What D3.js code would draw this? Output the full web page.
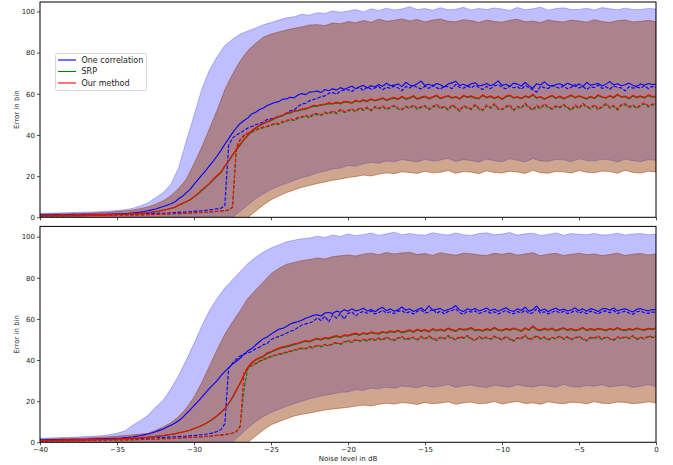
<!DOCTYPE html>
<html><head><meta charset="utf-8">
<script src="https://cdn.jsdelivr.net/npm/d3@7"></script>
<style>body{margin:0;background:#fff}svg{display:block}text{font-family:"DejaVu Sans",sans-serif;fill:#222}</style>
</head><body><svg id="c" width="673" height="465"></svg>
<script>
// sample grids (noise level in dB)
const lineStep = 0.25, bandStep = 0.5;
const noiseLine = d3.range(161).map(i => -40 + i * lineStep);
const noiseBand = d3.range(81).map(i => -40 + i * bandStep);

const methods = ["One correlation", "SRP", "Our method"];
const xTicks = [-40, -35, -30, -25, -20, -15, -10, -5, 0];
const yTicks = [0, 20, 40, 60, 80, 100];

// ---------------- TOP PANEL ----------------
const topOneMean = [1.2,1.2,1.3,1.2,1.3,1.3,1.2,1.3,1.3,1.4,1.3,1.4,1.4,1.4,1.5,1.4,1.5,1.5,1.6,1.6,1.7,1.7,1.8,1.9,2.1,2.3,2.5,2.8,3.2,3.6,4.0,4.6,5.2,5.9,6.6,7.4,9.0,10.2,12.0,13.6,16.0,18.2,20.5,22.6,25.0,27.3,29.8,32.5,35.5,38.2,41.0,43.5,45.6,47.0,48.3,50.2,51.0,52.4,53.1,54.3,55.0,55.8,56.2,57.4,57.5,58.3,58.0,59.4,60.1,59.6,60.8,61.0,61.3,60.6,62.1,61.5,62.4,61.8,63.0,62.2,62.9,63.7,62.5,63.4,64.1,62.8,63.9,63.3,64.5,63.6,65.1,63.9,64.2,64.8,63.5,65.6,64.3,63.9,64.9,66.2,64.0,64.7,63.6,65.0,64.4,63.2,64.8,65.3,66.1,64.0,64.6,63.7,64.9,65.4,63.8,64.2,65.0,63.9,64.8,66.3,64.1,64.6,63.5,65.2,64.7,63.8,65.5,64.0,62.6,64.9,64.3,65.8,64.2,63.7,64.5,64.9,63.9,65.1,64.4,63.6,64.8,63.5,65.6,64.1,64.6,65.0,63.8,64.7,65.9,64.3,64.9,63.9,64.4,65.2,64.0,63.6,64.8,64.2,65.0,64.5,64.6];
const topOneMedian = [0.8,0.8,0.9,0.8,0.9,0.9,0.9,1.0,1.0,1.0,1.0,1.1,1.1,1.1,1.2,1.1,1.2,1.2,1.3,1.3,1.3,1.4,1.4,1.5,1.5,1.6,1.6,1.7,1.8,1.8,1.9,2.0,2.0,2.1,2.2,2.3,2.4,2.5,2.6,2.7,2.9,3.0,3.2,3.4,3.6,3.8,4.1,4.4,5.6,35.0,38.5,40.0,41.0,42.2,43.4,44.1,45.0,45.6,46.3,47.5,47.8,48.2,49.0,49.3,50.5,51.8,52.2,53.8,55.0,55.4,56.6,57.2,57.8,58.6,59.0,60.2,60.6,59.8,61.3,61.9,62.0,61.1,62.6,63.0,61.6,63.4,62.2,62.8,63.5,62.0,63.2,62.7,63.8,62.9,61.5,63.6,62.8,64.0,63.1,62.4,63.7,62.6,64.3,63.0,62.2,63.9,63.4,62.5,64.6,63.1,62.7,63.8,62.9,64.2,63.0,62.1,63.6,62.5,63.9,64.4,63.2,62.4,63.8,62.9,63.5,62.2,64.0,63.1,61.9,60.8,63.7,63.0,62.6,64.1,63.3,62.7,63.9,62.4,63.2,64.5,62.8,63.6,62.1,63.4,63.0,64.2,62.6,63.5,62.2,63.8,63.1,62.9,61.4,63.5,62.7,63.3,62.8,63.9,62.5,63.6,63.1];
const topSrpMean = [1.0,1.0,1.0,1.0,1.0,1.0,1.1,1.1,1.1,1.1,1.1,1.1,1.2,1.2,1.2,1.2,1.2,1.3,1.3,1.3,1.4,1.4,1.5,1.6,1.7,1.8,1.9,2.0,2.2,2.4,2.7,3.0,3.4,3.8,4.3,4.8,5.8,6.6,7.5,8.4,9.8,11.2,13.0,14.5,16.2,18.1,20.0,21.6,24.6,27.1,30.1,32.6,35.1,37.6,39.7,41.8,43.2,44.5,45.4,46.2,46.9,48.0,48.7,49.3,50.3,50.6,51.4,51.7,52.3,52.5,53.2,53.9,54.0,54.4,54.7,55.2,55.0,55.6,55.1,56.0,55.8,55.4,56.5,56.0,56.8,56.2,57.2,56.5,57.0,57.7,56.7,57.4,57.9,57.2,58.4,57.3,57.9,58.7,57.3,58.0,58.5,57.5,58.2,59.0,57.6,58.3,58.8,57.8,58.4,57.3,58.9,58.2,58.6,57.9,57.5,59.2,58.0,58.7,57.7,58.5,57.2,58.5,59.0,57.9,58.3,57.6,58.7,58.1,59.4,57.8,58.4,57.3,58.2,58.9,57.7,58.6,57.5,58.3,59.1,57.9,58.8,58.1,57.4,58.5,57.7,59.2,58.2,57.8,58.9,58.0,59.4,58.3,58.6,57.6,58.9,58.1,58.7,57.9,59.1,58.4,58.6];
const topSrpMedian = [0.7,0.7,0.7,0.7,0.7,0.8,0.8,0.8,0.8,0.8,0.8,0.8,0.9,0.9,0.9,0.9,0.9,0.9,1.0,1.0,1.0,1.0,1.1,1.1,1.1,1.2,1.2,1.2,1.3,1.3,1.4,1.4,1.5,1.5,1.6,1.7,1.7,1.8,1.9,2.0,2.1,2.2,2.3,2.4,2.5,2.7,2.8,3.0,3.2,3.5,4.8,33.2,37.6,39.5,40.7,41.3,42.2,43.0,43.5,44.0,44.6,45.3,45.1,46.1,46.6,47.4,47.0,48.1,48.5,49.2,48.3,49.8,50.0,49.4,50.7,50.1,51.2,50.3,52.0,50.9,51.5,52.3,51.1,52.8,51.9,53.0,51.6,53.4,52.5,53.7,52.3,53.1,54.0,52.6,52.1,53.5,52.9,54.1,52.4,53.3,53.8,52.2,53.4,54.5,52.7,53.6,52.0,54.3,53.1,51.4,53.9,53.0,52.3,54.4,52.6,51.8,54.1,52.9,54.7,52.5,52.1,53.4,54.2,51.7,53.5,52.8,55.0,53.2,52.0,53.9,52.7,54.6,53.3,52.4,53.7,53.1,54.5,53.0,51.9,54.1,52.7,54.9,53.5,52.6,54.3,52.2,53.4,54.8,53.0,53.9,52.1,54.4,54.7,53.3,54.1,52.8,54.2,55.1,53.6,54.5,54.9];
const topOurMean = [1.0,1.0,1.0,1.1,1.0,1.1,1.1,1.1,1.1,1.1,1.2,1.1,1.2,1.2,1.2,1.3,1.2,1.3,1.3,1.4,1.4,1.5,1.5,1.6,1.7,1.8,1.9,2.1,2.3,2.5,2.8,3.1,3.5,3.9,4.4,4.9,6.0,6.8,7.6,8.6,10.0,11.5,13.3,14.8,16.5,18.5,20.3,22.0,25.0,27.5,30.5,33.0,35.5,38.0,40.0,42.2,43.5,44.8,45.7,46.5,47.2,48.4,49.0,49.6,50.7,50.9,51.8,52.0,52.6,52.9,53.5,54.4,54.3,54.8,55.0,55.7,55.2,56.0,55.4,56.4,56.1,55.7,56.9,56.3,57.2,56.5,57.6,56.8,57.4,58.1,57.0,57.8,58.3,57.5,58.8,57.7,58.2,59.1,57.6,58.4,58.9,57.8,58.5,59.4,57.9,58.6,59.2,58.1,58.7,57.6,59.3,58.5,59.0,58.2,57.8,59.6,58.3,59.1,58.0,58.8,57.5,58.9,59.4,58.2,58.6,57.9,59.0,58.4,59.8,58.1,58.7,57.6,58.5,59.3,58.0,58.9,57.8,58.6,59.5,58.2,59.1,58.4,57.7,58.8,58.0,59.6,58.5,58.1,59.2,58.3,59.8,58.6,58.9,57.9,59.3,58.4,59.0,58.2,59.5,58.7,58.9];
const topOurMedian = [0.7,0.7,0.7,0.8,0.7,0.8,0.8,0.8,0.8,0.8,0.9,0.8,0.9,0.9,0.9,0.9,0.9,1.0,1.0,1.0,1.0,1.1,1.1,1.1,1.2,1.2,1.2,1.3,1.3,1.4,1.4,1.5,1.5,1.6,1.7,1.7,1.8,1.9,2.0,2.1,2.2,2.3,2.4,2.5,2.6,2.8,2.9,3.1,3.3,3.6,5.0,34.0,38.0,40.0,41.0,41.8,42.6,43.4,44.0,44.3,45.0,45.8,45.5,46.6,47.0,47.9,47.4,48.6,49.0,49.6,48.8,50.3,50.5,49.9,51.2,50.6,51.7,50.8,52.5,51.4,52.0,52.8,51.6,53.3,52.4,53.5,52.1,53.9,53.0,54.2,52.8,53.6,54.5,53.1,52.6,54.0,53.4,54.6,52.9,53.8,54.3,52.7,53.9,55.0,53.2,54.1,52.5,54.8,53.6,51.9,54.4,53.5,52.8,54.9,53.1,52.3,54.6,53.4,55.2,53.0,52.6,53.9,54.7,52.2,54.0,53.3,55.5,53.7,52.5,54.4,53.2,55.1,53.8,52.9,54.2,53.6,55.0,53.5,52.4,54.6,53.2,55.4,54.0,53.1,54.8,52.7,53.9,55.3,53.5,54.4,52.6,54.9,55.2,53.8,54.6,53.3,54.7,55.6,54.1,55.0,55.4];
// mean +/- std bands (0.5 dB grid)
const topOneUpper = [2.0,2.1,2.1,2.2,2.3,2.4,2.5,2.6,2.8,3.0,3.3,3.7,4.3,5.5,7.0,9.5,12.0,16.0,24.0,37.0,49.5,62.0,71.5,78.0,83.5,86.5,89.0,90.5,92.0,93.5,94.6,95.8,96.9,97.4,98.6,98.2,99.4,99.0,100.3,99.6,100.2,100.9,99.8,101.3,100.5,101.6,100.7,101.2,102.3,100.9,101.4,100.6,101.8,100.8,101.1,102.0,100.7,101.5,100.9,101.7,101.2,100.5,101.9,100.8,101.3,102.1,100.6,101.4,101.8,100.9,101.0,101.6,100.7,101.9,101.3,100.8,101.6,101.0,100.9,101.5,101.2];
const topOneLower = [0.4,0.3,0.3,0.2,0.1,0.0,-0.2,-0.4,-0.6,-0.9,-1.3,-1.8,-2.4,-3.2,-4.0,-5.0,-6.0,-7.0,-8.0,-9.0,-10.0,-10.0,-9.0,-7.5,-3.5,0.0,3.0,6.0,9.0,11.5,13.5,15.2,16.5,18.0,19.3,20.2,21.6,22.4,23.5,23.9,25.2,24.8,26.0,26.7,26.3,27.4,27.0,28.1,27.5,26.9,28.2,27.3,27.8,28.6,27.1,28.0,27.6,26.8,28.3,27.5,27.0,28.4,27.7,26.9,28.5,27.4,27.2,28.1,27.9,27.0,28.4,27.6,27.3,28.2,27.8,26.9,28.3,27.5,27.1,28.0,27.7];
const topOurUpper = [1.5,1.6,1.7,1.7,1.8,1.9,2.0,2.1,2.3,2.5,2.8,3.1,3.5,4.2,5.0,6.3,8.0,10.5,14.0,18.5,26.0,34.0,43.0,52.0,62.0,69.5,76.0,81.0,84.5,87.5,89.0,90.0,91.0,91.8,92.5,93.4,93.6,93.1,94.4,94.0,95.1,94.5,95.6,94.8,96.2,95.3,95.7,96.4,95.4,96.1,94.9,95.8,96.3,95.2,95.0,96.0,95.6,94.7,95.9,95.1,94.8,95.7,96.2,95.0,95.3,94.6,95.9,95.2,94.9,95.8,95.4,94.8,96.0,95.1,94.7,95.5,95.9,94.9,95.2,95.7,95.0];
const topOurLower = [0.5,0.4,0.4,0.3,0.3,0.2,0.1,0.0,-0.1,-0.3,-0.5,-0.8,-1.1,-1.6,-2.2,-3.0,-4.0,-5.0,-6.0,-7.0,-8.0,-9.0,-9.5,-9.0,-8.0,-6.5,-3.0,0.0,3.0,6.0,8.5,10.3,12.0,13.3,14.6,15.5,16.4,17.2,18.0,18.6,19.3,19.8,20.5,20.1,21.0,21.6,21.2,22.1,21.8,21.3,22.4,21.6,21.9,22.7,21.4,22.2,22.0,21.2,22.6,21.8,21.5,22.4,22.0,21.3,22.8,21.7,21.4,22.3,22.1,21.5,22.7,21.9,21.6,22.5,22.2,21.4,22.9,21.8,21.5,22.4,22.0];
// SRP band coincides with "Our method" band in the picture
const topSrpUpper = topOurUpper;
const topSrpLower = topOurLower;

// ---------------- BOTTOM PANEL ----------------
const botOneMean = [1.2,1.2,1.3,1.3,1.3,1.3,1.4,1.3,1.4,1.4,1.5,1.5,1.5,1.6,1.6,1.7,1.7,1.8,1.8,1.9,2.0,2.1,2.3,2.4,2.6,2.9,3.2,3.6,4.0,4.5,5.1,5.8,6.5,7.4,8.3,9.3,10.5,12.0,14.0,15.8,17.8,19.8,21.8,24.0,26.2,28.0,30.0,32.4,34.4,36.2,38.0,39.4,41.0,42.8,44.5,45.6,47.3,48.9,50.4,51.2,52.6,53.8,55.0,55.4,56.3,57.5,58.2,58.6,59.4,60.3,60.9,61.8,62.0,61.4,62.9,63.1,62.6,63.8,63.2,64.5,63.7,64.9,63.9,64.3,65.2,63.8,64.6,63.5,64.8,65.6,64.0,64.9,63.7,64.4,65.8,64.2,64.9,63.6,64.5,65.3,63.9,66.4,64.1,64.7,65.0,63.8,64.6,65.2,66.5,64.3,63.6,64.9,64.2,65.1,63.9,64.5,65.3,64.0,64.8,63.7,64.6,65.4,64.2,63.6,64.9,64.1,65.7,63.8,64.4,66.3,64.0,64.8,63.5,64.6,65.2,64.1,64.8,63.9,64.3,65.4,64.0,64.9,63.7,65.0,64.5,63.6,64.9,65.1,64.2,65.3,63.8,64.6,64.9,64.1,63.4,64.7,65.0,64.3,63.9,64.6,64.4];
const botOneMedian = [0.8,0.8,0.9,0.9,0.9,0.9,1.0,1.0,1.0,1.0,1.1,1.1,1.1,1.2,1.2,1.2,1.3,1.3,1.4,1.4,1.5,1.5,1.6,1.6,1.7,1.8,1.8,1.9,2.0,2.1,2.2,2.3,2.4,2.5,2.6,2.7,2.8,2.9,3.0,3.2,3.3,3.5,3.7,3.9,4.2,4.6,5.3,6.2,9.0,36.0,38.5,40.5,42.0,43.0,43.5,44.2,45.5,46.2,47.5,48.0,50.0,50.8,51.5,52.2,53.0,54.0,54.6,55.8,57.0,57.6,58.0,58.8,60.5,59.2,61.3,58.6,62.0,60.4,62.6,59.9,62.8,63.4,61.5,63.0,63.6,62.7,63.9,62.4,63.1,64.2,62.9,63.5,62.6,63.8,64.0,62.8,63.5,62.4,63.7,64.3,62.9,63.3,65.0,62.7,63.8,62.5,63.6,64.1,64.9,63.0,62.3,63.7,63.4,63.9,62.6,63.2,64.0,62.8,63.5,62.4,63.3,64.1,63.0,62.5,63.6,62.9,64.3,62.6,63.0,64.9,62.8,63.5,62.4,63.3,64.0,62.9,63.7,62.6,63.1,64.2,62.8,63.6,62.5,63.8,63.2,62.4,63.7,63.9,63.0,64.1,62.6,63.3,63.7,62.9,62.2,63.5,63.8,63.0,62.7,63.4,63.2];
const botOurMean = [1.0,1.0,1.0,1.1,1.1,1.1,1.1,1.2,1.2,1.2,1.2,1.3,1.3,1.3,1.4,1.4,1.4,1.5,1.5,1.6,1.7,1.7,1.8,1.9,2.0,2.1,2.2,2.4,2.5,2.7,2.9,3.1,3.3,3.6,3.9,4.2,4.6,5.0,5.5,6.0,6.7,7.4,8.2,9.2,10.3,11.6,13.0,14.6,16.5,19.0,22.0,25.5,29.0,33.0,36.5,39.0,40.3,41.2,42.0,43.5,44.2,45.0,45.8,46.4,46.8,47.3,47.9,48.3,48.9,49.5,49.2,50.0,50.6,50.1,51.0,50.7,51.4,51.9,51.2,52.3,52.0,52.6,53.1,52.4,53.3,52.8,53.7,53.2,53.0,53.9,53.4,54.2,53.8,54.5,53.6,54.1,54.7,53.9,55.0,54.3,54.8,54.0,55.3,54.5,55.1,54.4,55.6,54.8,54.3,55.5,54.9,55.2,55.8,54.6,55.0,54.4,55.3,54.7,55.9,54.9,54.5,55.4,54.8,55.6,55.0,54.3,55.7,54.8,56.6,55.1,54.7,55.4,54.9,55.6,54.5,55.2,55.7,54.8,55.3,54.6,55.0,55.9,54.7,55.3,54.8,55.5,55.1,54.6,55.4,54.9,55.8,55.0,54.7,55.3,54.9,55.6,55.1,54.8,55.5,55.2,55.6];
const botOurMedian = [0.7,0.7,0.7,0.8,0.8,0.8,0.8,0.8,0.9,0.9,0.9,0.9,0.9,1.0,1.0,1.0,1.0,1.1,1.1,1.1,1.1,1.2,1.2,1.2,1.3,1.3,1.4,1.4,1.5,1.5,1.6,1.7,1.7,1.8,1.9,2.0,2.1,2.2,2.3,2.4,2.5,2.6,2.7,2.9,3.0,3.2,3.4,3.6,3.8,4.1,4.5,5.2,7.5,34.0,36.5,37.6,38.5,39.6,40.5,41.2,42.0,42.5,43.0,43.4,44.0,44.5,45.0,45.4,46.0,45.7,46.6,46.3,47.3,46.8,47.7,47.2,48.1,48.6,47.9,49.0,49.5,48.9,50.1,49.4,50.2,49.6,50.6,49.9,50.7,50.1,51.2,50.4,49.8,50.9,51.5,50.3,50.7,51.2,50.0,51.6,50.4,51.8,50.6,49.9,51.3,50.5,51.9,50.8,50.2,51.4,50.9,52.0,50.6,49.8,51.5,50.7,51.2,50.3,51.7,50.9,50.1,51.6,50.4,49.5,51.0,50.6,52.2,50.3,50.8,51.9,50.5,51.3,50.0,51.1,50.7,51.8,50.4,51.5,50.2,51.0,51.6,50.5,49.6,51.2,50.9,51.7,50.3,51.4,50.6,49.9,51.3,50.8,51.5,50.7,51.9,50.4,51.1,50.6,51.8,51.3,51.6];
const botSrpMean = [1.0,1.0,1.0,1.0,1.0,1.1,1.1,1.1,1.1,1.2,1.2,1.2,1.3,1.3,1.3,1.4,1.4,1.4,1.5,1.5,1.6,1.7,1.7,1.8,1.9,2.0,2.1,2.3,2.4,2.6,2.8,3.0,3.2,3.5,3.8,4.1,4.5,4.9,5.4,5.9,6.6,7.3,8.0,9.0,10.1,11.4,12.8,14.4,16.3,18.7,21.7,25.1,28.6,32.6,36.1,38.6,39.9,40.8,41.6,43.0,43.8,44.6,45.4,46.0,46.4,46.9,47.5,47.9,48.5,49.1,48.8,49.6,50.2,49.7,50.6,50.3,51.0,51.5,50.8,51.9,51.6,52.2,52.7,52.0,52.9,52.4,53.3,52.8,52.6,53.5,53.0,53.8,53.4,54.1,53.2,53.7,54.3,53.5,54.6,53.9,54.4,53.6,54.9,54.1,54.7,54.0,55.2,54.4,53.9,55.1,54.5,54.8,55.4,54.2,54.6,54.0,54.9,54.3,55.5,54.5,54.1,55.0,54.4,55.2,54.6,53.9,55.3,54.4,56.2,54.7,54.3,55.0,54.5,55.2,54.1,54.8,55.3,54.4,54.9,54.2,54.6,55.5,54.3,54.9,54.4,55.1,54.7,54.2,55.0,54.5,55.4,54.6,54.3,54.9,54.5,55.2,54.7,54.4,55.1,54.8,55.2];
const botSrpMedian = [0.7,0.7,0.7,0.7,0.8,0.8,0.8,0.8,0.8,0.9,0.9,0.9,0.9,0.9,1.0,1.0,1.0,1.0,1.1,1.1,1.1,1.1,1.2,1.2,1.2,1.3,1.3,1.4,1.4,1.5,1.5,1.6,1.7,1.7,1.8,1.9,2.0,2.1,2.2,2.3,2.4,2.5,2.7,2.8,2.9,3.1,3.3,3.5,3.7,4.0,4.4,5.1,8.0,26.0,36.0,37.2,38.1,39.2,40.1,40.8,41.6,42.1,42.6,43.0,43.6,44.1,44.6,45.0,45.6,45.3,46.2,45.9,46.9,46.4,47.3,46.8,47.7,48.2,47.5,48.6,49.1,48.5,49.7,49.0,49.8,49.2,50.2,49.5,50.3,49.7,50.8,50.0,49.4,50.5,51.1,49.9,50.3,50.8,49.6,51.2,50.0,51.4,50.2,49.5,50.9,50.1,51.5,50.4,49.8,51.0,50.5,51.6,50.2,49.4,51.1,50.3,50.8,49.9,51.3,50.5,49.7,51.2,50.0,49.1,50.6,50.2,51.8,49.9,50.4,51.5,50.1,50.9,49.6,50.7,50.3,51.4,50.0,51.1,49.8,50.6,51.2,50.1,49.2,50.8,50.5,51.3,49.9,51.0,50.2,49.5,50.9,50.4,51.1,50.3,51.5,50.0,50.7,50.2,51.4,50.9,51.2];
const botOneUpper = [2.0,2.1,2.2,2.3,2.4,2.6,2.8,3.0,3.2,3.7,4.4,5.5,8.2,10.5,13.0,17.0,20.5,26.0,32.5,40.0,48.0,56.5,64.0,70.0,75.0,79.0,83.0,87.0,90.0,92.5,94.5,96.0,97.5,98.3,99.0,99.4,100.2,99.6,100.8,100.1,101.3,100.5,101.0,101.8,100.6,101.4,102.2,100.9,101.5,101.0,100.7,101.9,101.2,100.8,101.8,101.0,100.6,101.5,101.9,100.9,101.3,102.0,100.8,101.4,101.7,100.6,101.1,101.8,100.7,101.5,101.2,100.9,101.6,100.8,101.0,101.7,100.8,101.3,101.5,100.9,101.2];
const botOneLower = [0.4,0.3,0.3,0.2,0.1,0.0,-0.2,-0.4,-0.7,-1.0,-1.4,-2.0,-3.0,-4.0,-5.0,-6.0,-7.0,-8.0,-9.0,-10.0,-10.0,-10.0,-9.0,-7.0,-3.0,0.0,3.5,7.0,10.0,12.5,14.5,16.0,17.5,18.8,20.0,21.2,22.0,22.9,23.5,24.3,24.5,25.6,25.2,26.3,26.0,26.8,26.3,27.4,27.0,26.5,27.6,26.8,27.2,28.1,26.7,27.5,27.9,27.0,26.6,27.7,27.3,26.8,28.0,27.2,26.9,27.8,27.4,26.7,28.2,27.1,26.8,27.6,27.3,28.0,26.9,27.5,27.8,26.7,27.2,28.1,27.0];
const botOurUpper = [1.5,1.6,1.7,1.8,1.9,2.0,2.1,2.3,2.5,2.7,3.0,3.3,3.6,4.0,4.3,5.8,7.5,9.5,12.5,16.5,22.0,29.0,37.0,45.0,52.5,58.5,64.0,70.0,74.0,78.0,82.0,84.5,86.5,87.5,88.3,88.9,89.6,89.2,90.3,90.7,91.1,90.6,91.5,92.0,91.2,92.3,91.6,92.1,92.4,91.3,91.8,90.9,92.2,91.5,91.0,92.0,91.7,91.1,90.8,91.9,91.4,92.1,91.0,91.6,92.2,90.7,91.5,91.9,90.9,91.4,92.0,91.2,91.6,90.8,91.3,92.0,90.9,91.5,91.8,91.1,91.6];
const botOurLower = [0.5,0.4,0.4,0.3,0.3,0.2,0.1,0.0,-0.1,-0.3,-0.5,-0.8,-1.2,-1.7,-2.3,-3.0,-4.0,-5.0,-6.0,-7.0,-8.0,-9.0,-9.5,-9.0,-8.0,-6.0,-3.0,0.0,3.0,6.0,8.5,10.0,11.5,12.8,13.6,14.2,15.0,15.7,16.2,16.6,17.0,17.6,18.1,17.7,18.5,19.0,18.6,19.3,19.0,18.4,19.4,18.8,19.1,19.7,18.5,19.2,19.6,18.7,19.0,19.8,18.6,19.3,19.9,18.9,19.2,18.5,19.7,19.1,18.8,19.5,19.3,18.7,19.8,19.0,18.9,19.6,19.4,18.8,19.1,19.7,19.2];
const botSrpUpper = botOurUpper;
const botSrpLower = botOurLower;

const colors = {one: "#0000ff", srp: "#008000", our: "#ff0000"};

// ---------------- DRAWING ----------------
const svg = d3.select("#c");
const L = 40, R = 656;
const x = d3.scaleLinear().domain([-40, 0]).range([L, R]);

const panels = [
  {top: 2, bottom: 217.3, ymax: 104.6, showX: false,
   bands: [[topOneLower, topOneUpper, colors.one], [topSrpLower, topSrpUpper, colors.srp], [topOurLower, topOurUpper, colors.our]],
   lines: [[topOneMean, colors.one, false], [topOneMedian, colors.one, true], [topSrpMean, colors.srp, false], [topSrpMedian, colors.srp, true], [topOurMean, colors.our, false], [topOurMedian, colors.our, true]]},
  {top: 226.4, bottom: 442.3, ymax: 105, showX: true,
   bands: [[botOneLower, botOneUpper, colors.one], [botSrpLower, botSrpUpper, colors.srp], [botOurLower, botOurUpper, colors.our]],
   lines: [[botOneMean, colors.one, false], [botOneMedian, colors.one, true], [botSrpMean, colors.srp, false], [botSrpMedian, colors.srp, true], [botOurMean, colors.our, false], [botOurMedian, colors.our, true]]}
];

panels.forEach((p, pi) => {
  const y = d3.scaleLinear().domain([0, p.ymax]).range([p.bottom, p.top]);
  const cid = "clip" + pi;
  svg.append("clipPath").attr("id", cid).append("rect")
    .attr("x", L).attr("y", p.top).attr("width", R - L).attr("height", p.bottom - p.top);
  const g = svg.append("g").attr("clip-path", `url(#${cid})`);

  p.bands.forEach(([lo, hi, c]) => {
    const area = d3.area().x((d, i) => x(noiseBand[i])).y0((d, i) => y(lo[i])).y1((d, i) => y(hi[i]));
    g.append("path").attr("d", area(hi)).attr("fill", c).attr("fill-opacity", 0.25)
      .attr("stroke", c).attr("stroke-opacity", 0.25).attr("stroke-width", 1);
  });
  p.lines.forEach(([vals, c, dashed]) => {
    const line = d3.line().x((d, i) => x(noiseLine[i])).y(d => y(d));
    g.append("path").attr("d", line(vals)).attr("fill", "none").attr("stroke", c)
      .attr("stroke-width", 1.1).attr("stroke-linejoin", "round")
      .attr("stroke-dasharray", dashed ? "3.7,1.6" : null);
  });

  // frame
  svg.append("rect").attr("x", L).attr("y", p.top).attr("width", R - L).attr("height", p.bottom - p.top)
    .attr("fill", "none").attr("stroke", "#000").attr("stroke-width", 1);

  // y axis
  const ya = svg.append("g").attr("transform", `translate(${L},0)`)
    .call(d3.axisLeft(y).tickValues(yTicks).tickSize(3).tickPadding(2).tickFormat(d3.format("d")));
  ya.select(".domain").remove();
  ya.selectAll("text").style("font-size", "7px").style("font-family", "DejaVu Sans").attr("fill", "#222");
  ya.selectAll("line").attr("stroke", "#222").attr("stroke-width", 0.8);

  // x axis
  const xa = svg.append("g").attr("transform", `translate(0,${p.bottom})`)
    .call(d3.axisBottom(x).tickValues(xTicks).tickSize(3).tickPadding(2)
      .tickFormat(p.showX ? (d => d < 0 ? "\u2212" + Math.abs(d) : String(d)) : ""));
  xa.select(".domain").remove();
  xa.selectAll("text").style("font-size", "7px").style("font-family", "DejaVu Sans").attr("fill", "#222");
  xa.selectAll("line").attr("stroke", "#222").attr("stroke-width", 0.8);

  // y label
  svg.append("text").attr("transform", `translate(18.5,${(p.top + p.bottom) / 2}) rotate(-90)`)
    .attr("text-anchor", "middle").style("font-size", "7px").text("Error in bin");
});

// x label
svg.append("text").attr("x", (L + R) / 2).attr("y", 461).attr("text-anchor", "middle")
  .style("font-size", "7px").text("Noise level in dB");

// legend
const lg = svg.append("g");
lg.append("rect").attr("x", 55.5).attr("y", 53.5).attr("width", 91).attr("height", 37).attr("rx", 2)
  .attr("fill", "#fff").attr("fill-opacity", 0.8).attr("stroke", "#ccc").attr("stroke-width", 0.8);
const legendColors = [colors.one, colors.srp, colors.our];
methods.forEach((m, i) => {
  const yy = 60 + i * 11.5;
  lg.append("line").attr("x1", 58).attr("x2", 76).attr("y1", yy).attr("y2", yy)
    .attr("stroke", legendColors[i]).attr("stroke-width", 1.1);
  lg.append("text").attr("x", 81.5).attr("y", yy).attr("dy", "0.35em").style("font-size", "8px").text(m);
});
</script></body></html>
